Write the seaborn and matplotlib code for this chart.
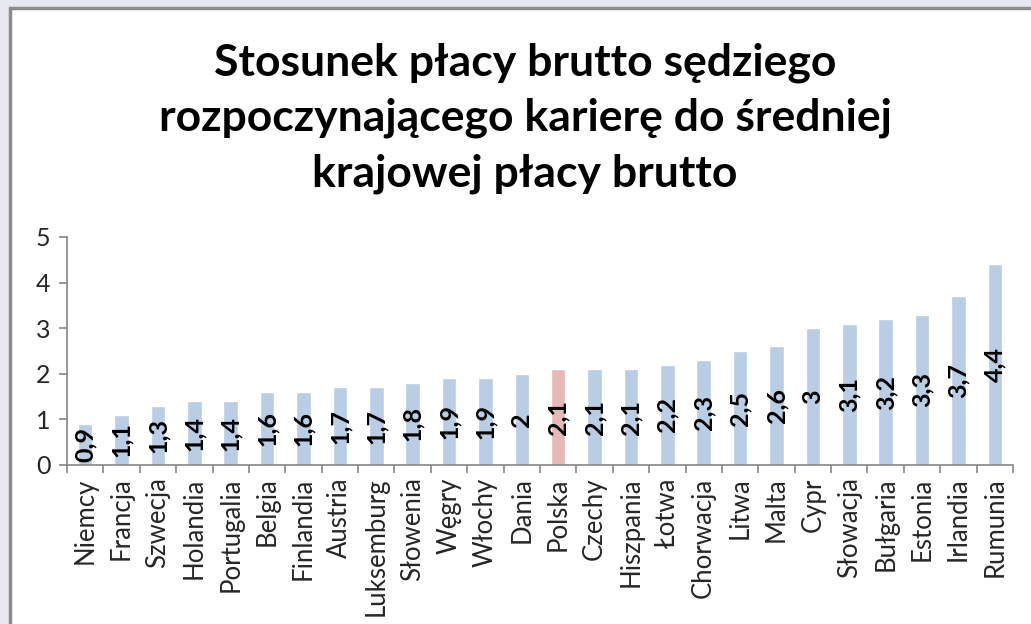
import matplotlib
matplotlib.use("Agg")
import matplotlib.pyplot as plt
import seaborn as sns
from matplotlib.patches import Rectangle

countries = ["Niemcy", "Francja", "Szwecja", "Holandia", "Portugalia", "Belgia",
             "Finlandia", "Austria", "Luksemburg", "Słowenia", "Węgry", "Włochy",
             "Dania", "Polska", "Czechy", "Hiszpania", "Łotwa", "Chorwacja", "Litwa",
             "Malta", "Cypr", "Słowacja", "Bułgaria", "Estonia", "Irlandia", "Rumunia"]
values = [0.9, 1.1, 1.3, 1.4, 1.4, 1.6, 1.6, 1.7, 1.7, 1.8, 1.9, 1.9, 2.0, 2.1,
          2.1, 2.1, 2.2, 2.3, 2.5, 2.6, 3.0, 3.1, 3.2, 3.3, 3.7, 4.4]
labels = ["0,9", "1,1", "1,3", "1,4", "1,4", "1,6", "1,6", "1,7", "1,7", "1,8", "1,9",
          "1,9", "2", "2,1", "2,1", "2,1", "2,2", "2,3", "2,5", "2,6", "3", "3,1",
          "3,2", "3,3", "3,7", "4,4"]
highlight = "Polska"
title = "Stosunek płacy brutto sędziego\nrozpoczynającego karierę do średniej\nkrajowej płacy brutto"

sns.set_theme(style="white")
plt.rcParams['font.family'] = ['Lato', 'DejaVu Sans']

fig = plt.figure(figsize=(10.31, 6.24), dpi=100)
fig.patch.set_facecolor("#E8E8F3")
fig.patches.append(Rectangle((10 / 1031, -0.1), 1.2, 1 - 8 / 624 + 0.1,
                             transform=fig.transFigure, facecolor="white",
                             edgecolor="#8C8C8C", linewidth=2.5, zorder=-10))

ax = fig.add_axes([67 / 1031, 1 - 465 / 624, (1013 - 67) / 1031, (465 - 237) / 624])
ax.set_facecolor("none")
palette = {c: ("#E6B9B8" if c == highlight else "#B9CDE5") for c in countries}
sns.barplot(x=countries, y=values, hue=countries, palette=palette, legend=False,
            width=0.4, saturation=1, ax=ax)

for i, (v, lab) in enumerate(zip(values, labels)):
    ax.text(i, v / 2, lab, rotation=90, ha="center", va="center",
            fontsize=18, fontweight="bold", color="black")

ax.set_ylim(0, 5)
ax.set_xlim(-0.5, len(countries) - 0.5)
ax.set_yticks(range(6))
ax.tick_params(axis="y", left=True, length=6, color="#868686", labelsize=18, pad=6)
ax.set_xticks(range(len(countries)))
ax.set_xticklabels(countries, rotation=90, fontsize=18.5)
ax.tick_params(axis="x", which="major", bottom=False, length=0, pad=9)
ax.set_xticks([i - 0.5 for i in range(len(countries) + 1)], minor=True)
ax.tick_params(axis="x", which="minor", bottom=True, length=6, color="#868686", width=1.2)
ax.tick_params(axis="y", width=1.2)
for s in ["top", "right"]:
    ax.spines[s].set_visible(False)
for s in ["left", "bottom"]:
    ax.spines[s].set_color("#868686")
    ax.spines[s].set_linewidth(1.2)
ax.set_xlabel("")
ax.set_ylabel("")

fig.text(525 / 1031, 1 - 118 / 624, title, ha="center", va="center", fontsize=32,
         fontweight="bold", linespacing=1.46, color="black")

fig.savefig("out.png", dpi=100, facecolor=fig.get_facecolor())
